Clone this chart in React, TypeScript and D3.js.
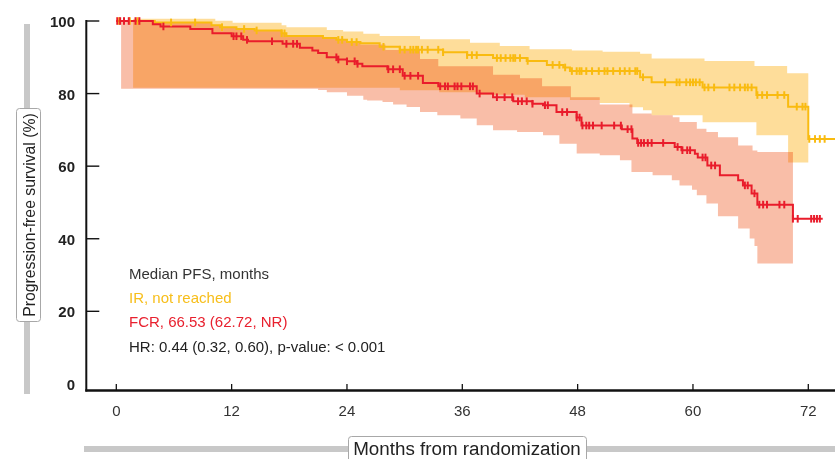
import React from 'react';
import * as d3 from 'd3';

// Kaplan-Meier steps: [month, survival %]
const irCurve: [number, number][] = [
  [0, 100], [4, 99.6], [9.9, 98.8], [10.8, 98.3], [12.5, 97.8], [14.4, 97.4], [17.2, 96.6], [17.7, 95.9],
  [21.5, 95.3], [22.9, 94.8], [24, 94.2], [25.4, 93.9], [27.4, 92.9], [29.5, 92.1], [34, 91.4], [36.5, 90.6],
  [39.2, 89.8], [42.7, 89.0], [44.8, 87.9], [46.5, 87.2], [47.2, 86.2], [54.5, 84.5], [55.7, 83.1], [61, 81.7],
  [66.6, 79.6], [69.9, 76.4], [72, 67.5], [74.8, 67.5],
];
const fcrCurve: [number, number][] = [
  [0, 100], [3.8, 99.1], [4.6, 98.5], [7.7, 97.8], [10, 96.6], [12, 95.8], [13.2, 94.8], [13.7, 94.4],
  [17.3, 93.7], [19.1, 92.6], [20.4, 91.9], [21, 91.2], [21.9, 90.0], [23, 89.4], [24, 88.9], [25, 88.2],
  [25.6, 87.5], [28.2, 86.7], [29.8, 84.9], [31.9, 82.9], [33.5, 82.0], [37.5, 80.0], [39.2, 79.0], [41.3, 77.9],
  [43.3, 77.2], [44.4, 76.8], [45.8, 74.9], [47.9, 73.4], [48.4, 71.2], [52.6, 70.2], [53.7, 67.6], [54.2, 66.4],
  [58.1, 65.3], [58.8, 64.4], [60.2, 63.4], [60.5, 62.4], [61.5, 60.2], [62.8, 57.5], [64.7, 56.1], [65.2, 54.7],
  [66.1, 52.5], [66.7, 49.4], [70.4, 45.5], [73.5, 45.5],
];

// confidence bands
const irUpper: [number, number][] = [
  [1.75, 100.6], [10.3, 100.1], [12.1, 99.5], [17.2, 98.8], [17.7, 98.3], [21.9, 97.5], [23.6, 97.1],
  [25.7, 96.5], [27.4, 95.9], [31.6, 95.0], [36.8, 94.0], [39.9, 93.1], [43, 92.2], [47.4, 91.9], [50.6, 91.5],
  [54.5, 91.0], [55.7, 89.7], [61.2, 89.0], [66.4, 87.6], [69.8, 85.6], [72, 85.6],
];
const irLower: [number, number][] = [
  [1.75, 81.6], [29.5, 80.9], [33.6, 80.4], [37.8, 79.7], [42.5, 79.0], [47.2, 78.2], [50.3, 77.4], [53.4, 76.2],
  [54.8, 75.4], [55.7, 74.0], [61, 72.1], [66.6, 68.5], [69.9, 61], [72, 61],
];
const fcrUpper: [number, number][] = [
  [0.5, 100], [4, 99.6], [9.9, 98.8], [10.8, 98.3], [12.5, 97.8], [14.4, 97.4], [17.2, 96.6], [17.7, 95.9],
  [21.5, 95.3], [22.9, 94.8], [24, 94.2], [25.4, 93.5], [28, 92.0], [31.6, 89.5], [33.5, 87.5], [39.2, 85.2],
  [42, 84.2], [44.3, 82.0], [47.3, 79.0], [50.3, 77.0], [53.7, 74.5], [55.7, 74.0], [57.9, 73.5], [58.6, 72.2],
  [60.4, 70.3], [61.4, 69.4], [62.6, 68.0], [64.7, 65.7], [66.2, 64.3], [66.7, 63.9], [70.4, 63.9],
];
const fcrLower: [number, number][] = [
  [0.5, 81.3], [21, 81.0], [21.9, 80.4], [24, 79.4], [25.7, 78.3], [26.1, 78.1], [27.7, 77.7], [28.8, 77.0],
  [30.2, 76.3], [31.6, 74.9], [33.4, 74.0], [35.8, 73.1], [37.5, 71.3], [39.2, 69.9], [41.7, 69.4], [44.4, 68.5],
  [46.1, 66.2], [47.9, 63.5], [50.3, 63.0], [52.4, 61.6], [53.6, 58.4], [55.8, 57.5], [57.8, 56.1], [58.6, 54.7],
  [59.9, 53.5], [60.4, 52.0], [61.4, 49.7], [62.6, 46.2], [64.7, 42.8], [65.9, 40.1], [66.4, 38], [66.7, 33.2],
  [70.4, 33.2],
];

// censoring times (months)
const irCensored = [
  0.3, 1.4, 2.2, 5.7, 8.2, 11, 13.3, 14.6, 17.2, 17.5, 23.1, 23.5, 24.5, 25, 27.8, 29.5, 30, 30.6, 30.9, 31.2,
  31.4, 31.8, 32.4, 33.5, 34, 36.5, 37, 37.5, 39.6, 40, 40.5, 41, 41.3, 41.5, 42, 42.8, 45.4, 46.1, 46.7, 47.4,
  47.9, 48.2, 48.4, 48.9, 49.5, 50.2, 50.8, 51.1, 51.7, 52.4, 52.9, 53.4, 54, 54.2, 54.8, 57.1, 58.3, 58.6,
  59.3, 59.7, 60, 60.3, 60.7, 61.2, 61.6, 62.2, 63.8, 64.3, 64.9, 65.4, 65.7, 66.1, 66.7, 67.2, 67.7, 68.8,
  69.5, 70.8, 71.4, 71.7, 72.1, 72.7, 73.2, 73.7,
];
const fcrCensored = [
  0.1, 0.4, 0.8, 1.3, 2.0, 2.4, 4.9, 12.2, 12.5, 13, 13.6, 16.2, 17.7, 18.4, 18.8, 22.9, 23.1, 24, 24.8, 25.1,
  28.3, 28.8, 29.5, 30, 30.6, 31.4, 33.7, 34.2, 34.5, 35.2, 35.5, 35.9, 36.8, 37.1, 37.8, 39.6, 40.4, 41.2,
  41.8, 42.2, 42.7, 43.3, 44.6, 44.9, 46.4, 46.9, 47.9, 48.2, 48.5, 48.9, 49.2, 49.6, 50.5, 51.8, 52.5, 53.2,
  53.6, 54.3, 54.6, 54.9, 55.3, 55.7, 56.9, 58.4, 58.9, 59.4, 59.7, 61, 61.3, 61.9, 62.3, 65.4, 65.7, 66.4,
  66.9, 67.3, 67.7, 69, 69.5, 70.4, 70.9, 72.3, 72.6, 72.9, 73.2,
];

const xTicks = [0, 12, 24, 36, 48, 60, 72];
const yTicks = [0, 20, 40, 60, 80, 100];
const legendLines = [
  { text: 'Median PFS, months', color: '#333333' },
  { text: 'IR, not reached', color: '#f7be1a' },
  { text: 'FCR, 66.53 (62.72, NR)', color: '#e8202e' },
  { text: 'HR: 0.44 (0.32, 0.60), p-value: < 0.001', color: '#222222' },
];

const W = 835;
const H = 459;
const FONT = '"Liberation Sans", Arial, Helvetica, sans-serif';
const IR_COLOR = '#f9bb10';
const FCR_COLOR = '#e91c2b';

function stepAt(steps: [number, number][], t: number) {
  const i = d3.bisector((d: [number, number]) => d[0]).right(steps, t) - 1;
  return steps[Math.max(0, i)][1];
}

function bandData(upper: [number, number][], lower: [number, number][]) {
  const times = Array.from(new Set([...upper.map(d => d[0]), ...lower.map(d => d[0])])).sort((a, b) => a - b);
  return times.map(t => ({ t, hi: stepAt(upper, t), lo: stepAt(lower, t) }));
}

export default function App() {
  const x = d3.scaleLinear().domain([0, 72]).range([116.3, 808.3]);
  const y = d3.scaleLinear().domain([0, 100]).range([383.9, 21]);
  const axisY = 390.5;
  const axisX = 86.3;

  const area = d3.area<{ t: number; hi: number; lo: number }>()
    .x(d => x(d.t)).y0(d => y(d.lo)).y1(d => y(d.hi))
    .curve(d3.curveStepAfter);
  const line = d3.line<[number, number]>().x(d => x(d[0])).y(d => y(d[1])).curve(d3.curveStepAfter);

  const irBand = bandData(irUpper, irLower);
  const fcrBand = bandData(fcrUpper, fcrLower);

  const censorMarks = (times: number[], curve: [number, number][], color: string, key: string) =>
    times.map((t, i) => {
      const cy = y(stepAt(curve, t));
      return <line key={key + i} x1={x(t)} x2={x(t)} y1={cy - 3.8} y2={cy + 3.8} stroke={color} strokeWidth={2} />;
    });

  return (
    <svg width={W} height={H} style={{ position: 'absolute', left: 0, top: 0, display: 'block', background: '#fff' }}
      fontFamily={FONT}>
      {/* confidence bands */}
      <path d={area(irBand) || ''} fill="#fedd9a" style={{ mixBlendMode: 'multiply' }} />
      <path d={area(fcrBand) || ''} fill="#f9bea8" style={{ mixBlendMode: 'multiply' }} />

      {/* survival curves */}
      <path d={line(irCurve) || ''} fill="none" stroke={IR_COLOR} strokeWidth={2} />
      <path d={line(fcrCurve) || ''} fill="none" stroke={FCR_COLOR} strokeWidth={2} />
      {censorMarks(irCensored, irCurve, IR_COLOR, 'ic')}
      {censorMarks(fcrCensored, fcrCurve, FCR_COLOR, 'fc')}

      {/* axes */}
      <line x1={axisX} x2={axisX} y1={y(100) - 1} y2={axisY + 1} stroke="#111" strokeWidth={2} />
      <line x1={axisX - 1} x2={W} y1={axisY} y2={axisY} stroke="#111" strokeWidth={2.3} />
      {yTicks.map(v => (
        <g key={'yt' + v}>
          {v > 0 && <line x1={axisX} x2={axisX + 13} y1={y(v)} y2={y(v)} stroke="#111" strokeWidth={1.4} />}
          <text x={75} y={y(v) + 6} textAnchor="end" fontSize={15} fontWeight="bold" fill="#222">{v}</text>
        </g>
      ))}
      {xTicks.map(v => (
        <g key={'xt' + v}>
          <line x1={x(v)} x2={x(v)} y1={axisY - 6.5} y2={axisY} stroke="#111" strokeWidth={1.3} />
          <text x={x(v)} y={415.5} textAnchor="middle" fontSize={15} fill="#333">{v}</text>
        </g>
      ))}

      {/* legend */}
      {legendLines.map((l, i) => (
        <text key={'lg' + i} x={129} y={279 + i * 24.2} fontSize={15} fill={l.color}>{l.text}</text>
      ))}

      {/* y axis title */}
      <rect x={24} y={24} width={6} height={370} fill="#c8c8c8" />
      <rect x={16.5} y={108.5} width={24} height={213} rx={3} fill="#fff" stroke="#a8a8a8" strokeWidth={1} />
      <text transform="translate(34.5,215) rotate(-90)" textAnchor="middle" fontSize={15.8} fill="#222">
        Progression-free survival (%)
      </text>

      {/* x axis title */}
      <rect x={84} y={446} width={W - 84} height={6} fill="#c8c8c8" />
      <rect x={348.5} y={436.5} width={238} height={40} rx={3} fill="#fff" stroke="#a8a8a8" strokeWidth={1} />
      <text x={467} y={455} textAnchor="middle" fontSize={18.8} fill="#222">Months from randomization</text>
    </svg>
  );
}
